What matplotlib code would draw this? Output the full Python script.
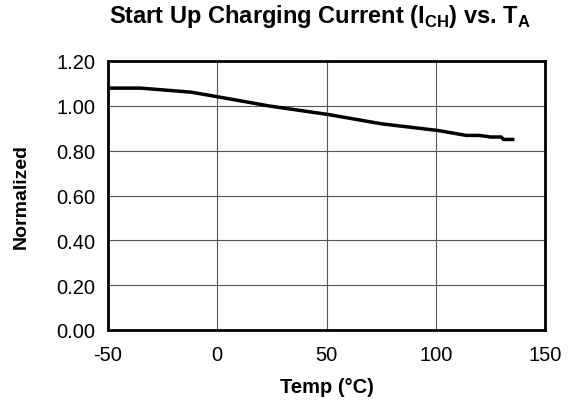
import numpy as np
import matplotlib
matplotlib.use("Agg")
import matplotlib.pyplot as plt

plt.rcParams['font.family'] = ['Liberation Sans', 'DejaVu Sans']
plt.rcParams['mathtext.fontset'] = 'custom'
plt.rcParams['mathtext.rm'] = 'Liberation Sans'
plt.rcParams['mathtext.bf'] = 'Liberation Sans:bold'
plt.rcParams['axes.unicode_minus'] = False

# curve
temp = [-50, -35, -12, 1, 24, 51, 75, 101, 114, 120, 125, 130, 131, 136]
normalized = [1.079, 1.079, 1.061, 1.039, 0.999, 0.961, 0.920, 0.890,
              0.868, 0.868, 0.861, 0.861, 0.850, 0.850]

x_ticks = [-50, 0, 50, 100, 150]
y_ticks = [0.0, 0.2, 0.4, 0.6, 0.8, 1.0, 1.2]

fig = plt.figure(figsize=(5.71, 4.06), dpi=100)
ax = fig.add_axes([108 / 571, 1 - 331 / 406, 437 / 571, 269 / 406])

ax.plot(temp, normalized, color='black', linewidth=2.5, solid_capstyle='butt')

ax.set_xlim(-50, 150)
ax.set_ylim(0, 1.2)
ax.set_xticks(x_ticks)
ax.set_yticks(y_ticks)
ax.set_yticklabels([f'{v:.2f}' for v in y_ticks])
ax.tick_params(length=0, labelsize=14.5, pad=9)
ax.tick_params(axis='x', pad=11)
ax.grid(True, color='#555555', linewidth=0.8)
ax.set_axisbelow(True)
for s in ax.spines.values():
    s.set_linewidth(2)

ax.set_xlabel('Temp (°C)', fontsize=14.5, fontweight='bold', labelpad=9)
ax.set_ylabel('Normalized', fontsize=14, fontweight='bold', labelpad=19)
ax.set_title(r'Start Up Charging Current (I$_\mathbf{CH}$) vs. T$_\mathbf{A}$',
             fontsize=17, fontweight='bold', pad=28, x=0.485)

fig.savefig('out.png', dpi=100)
